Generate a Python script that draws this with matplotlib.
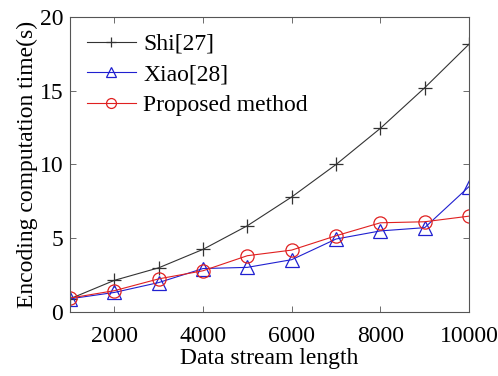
import numpy as np
import matplotlib as mpl
import matplotlib.pyplot as plt

mpl.rcParams['font.family'] = ['Liberation Serif', 'DejaVu Serif']

lengths = [1000, 2000, 3000, 4000, 5000, 6000, 7000, 8000, 9000, 10000]
shi = [0.9, 2.15, 3.0, 4.25, 5.85, 7.8, 10.0, 12.45, 15.2, 18.15]
xiao = [0.9, 1.33, 2.0, 2.95, 3.03, 3.55, 4.95, 5.5, 5.72, 8.5]
proposed = [0.95, 1.45, 2.25, 2.8, 3.82, 4.2, 5.17, 6.05, 6.12, 6.5]

fig = plt.figure(figsize=(4.98, 3.76), dpi=100)
ax = fig.add_axes([0.1406, 0.170, 0.8012, 0.785])

ax.plot(lengths, shi, color='#333333', marker='+', markersize=9.5, linewidth=0.8,
        markeredgewidth=0.9, label='Shi[27]')
ax.plot(lengths, xiao, color='#2020d0', marker='^', markersize=9.5, linewidth=0.8,
        markerfacecolor='none', markeredgewidth=0.9, label='Xiao[28]')
ax.plot(lengths, proposed, color='#e02020', marker='o', markersize=9.5, linewidth=0.8,
        markerfacecolor='none', markeredgewidth=0.9, label='Proposed method')

ax.set_xlim(1000, 10000)
ax.set_ylim(0, 20)
ax.set_xticks([2000, 4000, 6000, 8000, 10000])
ax.set_yticks([0, 5, 10, 15, 20])
ax.tick_params(direction='in', top=True, right=True, labelsize=17, length=4,
               width=0.6, color='#555555')
ax.tick_params(axis='x', pad=10)
ax.tick_params(axis='y', pad=5)
for s in ax.spines.values():
    s.set_color('#555555')
    s.set_linewidth(0.8)

ax.set_xlabel('Data stream length', fontsize=17, labelpad=1)
ax.set_ylabel('Encoding computation time(s)', fontsize=17, labelpad=1)

leg = ax.legend(loc='upper left', frameon=False, fontsize=17, handlelength=2.1,
                handletextpad=0.3, labelspacing=0.38, borderaxespad=0.3,
                markerscale=0.75)

plt.savefig('out.png', dpi=100)
